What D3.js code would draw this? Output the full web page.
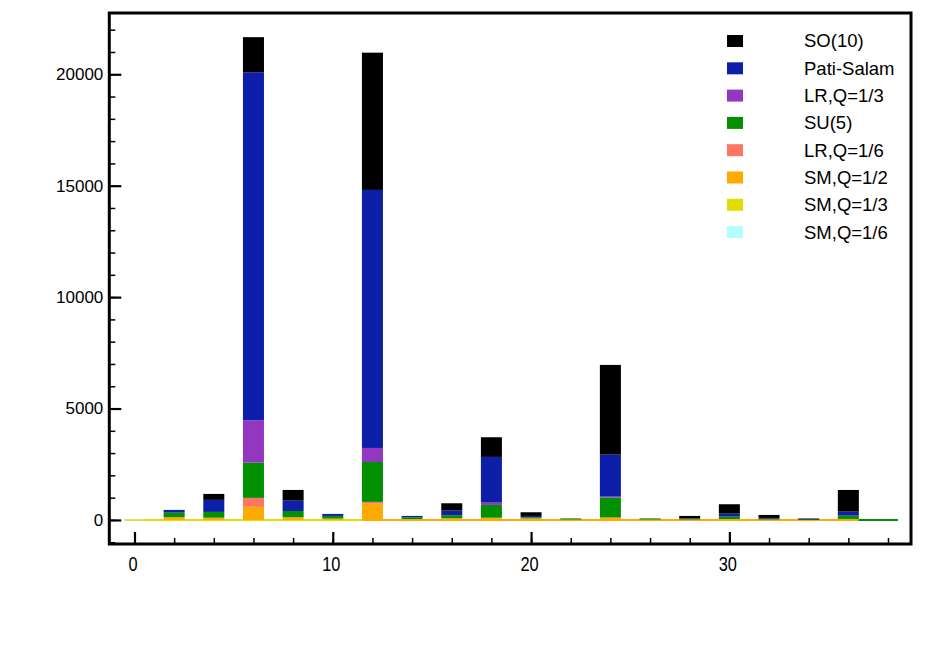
<!DOCTYPE html>
<html>
<head>
<meta charset="utf-8">
<script src="https://cdn.jsdelivr.net/npm/d3@7"></script>
<style>
  html, body { margin: 0; padding: 0; background: #fff; }
  svg { display: block; }
</style>
</head>
<body>
<svg id="chart" width="926" height="654"></svg>
<script>
// ---- data ----
const bins = [0, 2, 4, 6, 8, 10, 12, 14, 16, 18, 20, 22, 24, 26, 28, 30, 32, 34, 36];
// stacked bottom -> top
const seriesNames = ["SM,Q=1/6", "SM,Q=1/3", "SM,Q=1/2", "LR,Q=1/6", "SU(5)", "LR,Q=1/3", "Pati-Salam", "SO(10)"];
const seriesColors = ["#b3ffff", "#e0dd00", "#ffaa00", "#ff7560", "#009000", "#9437c0", "#0d1fa8", "#000000"];
const smQ16  = [15, 0, 0, 0, 0, 0, 0, 0, 0, 0, 0, 0, 0, 0, 0, 0, 0, 0, 0];
const smQ13  = [0, 0, 0, 0, 0, 0, 0, 0, 0, 0, 0, 0, 0, 0, 0, 0, 0, 0, 0];
const smQ12  = [0, 120, 100, 590, 120, 60, 730, 40, 75, 100, 70, 20, 110, 20, 20, 40, 20, 20, 40];
const lrQ16  = [0, 0, 0, 400, 0, 0, 80, 0, 0, 0, 0, 0, 0, 0, 0, 0, 0, 0, 0];
const su5    = [0, 210, 260, 1580, 280, 120, 1790, 80, 135, 573, 50, 50, 890, 50, 30, 110, 30, 20, 153];
const lrQ13  = [0, 0, 0, 1905, 0, 0, 630, 0, 0, 105, 0, 0, 47, 0, 0, 0, 0, 0, 0];
const patiSalam = [0, 120, 540, 15615, 466, 90, 11580, 60, 210, 2050, 60, 0, 1883, 0, 25, 133, 40, 10, 180];
const so10   = [0, 0, 267, 1575, 480, 0, 6160, 0, 328, 883, 164, 0, 4027, 0, 105, 421, 134, 10, 973];
const seriesValues = [smQ16, smQ13, smQ12, lrQ16, su5, lrQ13, patiSalam, so10];
// which series' outline shows on the empty histogram bins
const emptyLineSeries = [
  { from: -0.5, to: 11.5, series: "SM,Q=1/3" },
  { from: 11.5, to: 36.5, series: "SM,Q=1/2" },
  { from: 36.5, to: 38.5, series: "SU(5)" }
];
const xMajorTicks = [0, 10, 20, 30];
const yMajorTicks = [0, 5000, 10000, 15000, 20000];

// ---- layout ----
const svg = d3.select("#chart");
const L = 109.3, R = 911, T = 13, B = 544;
const x = d3.scaleLinear().domain([-1.27, 39.16]).range([L, R]);
const y = d3.scaleLinear().domain([-1080, 22750]).range([B, T]);
const color = d3.scaleOrdinal().domain(seriesNames).range(seriesColors);

// table for stacking
const table = bins.map((b, i) => {
  const row = { bin: b };
  seriesNames.forEach((s, k) => row[s] = seriesValues[k][i]);
  return row;
});
const stacked = d3.stack().keys(seriesNames)(table);

const g = svg.append("g");

// empty-bin outline lines along zero
g.selectAll("line.zero").data(emptyLineSeries).join("line")
  .attr("x1", d => x(d.from)).attr("x2", d => x(d.to))
  .attr("y1", y(0)).attr("y2", y(0))
  .attr("stroke", d => color(d.series)).attr("stroke-width", 2);

// bars
const bw = 1.06;
g.selectAll("g.layer").data(stacked).join("g")
  .attr("fill", d => color(d.key))
  .selectAll("rect").data(d => d.filter(p => p[1] - p[0] > 0)).join("rect")
  .attr("x", d => x(d.data.bin - bw / 2))
  .attr("width", x(bw) - x(0))
  .attr("y", d => y(d[1]))
  .attr("height", d => Math.max(0.6, y(d[0]) - y(d[1])));

// axes
const fontY = "17px 'Liberation Sans', Arial, sans-serif";
const yMinor = d3.range(-1000, 22001, 1000);
svg.append("g").attr("transform", `translate(${L},0)`)
  .call(d3.axisLeft(y).tickValues(yMinor).tickSize(-6).tickFormat(""))
  .call(a => a.select(".domain").remove())
  .call(a => a.selectAll("line").attr("stroke-width", 1.5));
svg.append("g").attr("transform", `translate(${L},0)`)
  .call(d3.axisLeft(y).tickValues(yMajorTicks).tickSize(-12).tickPadding(6).tickFormat(d3.format("d")))
  .call(a => a.select(".domain").remove())
  .call(a => a.selectAll("line").attr("stroke-width", 2.2))
  .call(a => a.selectAll("text").attr("fill", "#000").style("font", fontY));

const xMinor = d3.range(0, 39, 2);
svg.append("g").attr("transform", `translate(0,${B})`)
  .call(d3.axisBottom(x).tickValues(xMinor).tickSize(-6).tickFormat(""))
  .call(a => a.select(".domain").remove())
  .call(a => a.selectAll("line").attr("stroke-width", 1.5));
svg.append("g").attr("transform", `translate(0,${B})`)
  .call(d3.axisBottom(x).tickValues(xMajorTicks).tickSize(-12).tickPadding(13).tickFormat(d3.format("d")))
  .call(a => a.select(".domain").remove())
  .call(a => a.selectAll("line").attr("stroke-width", 2.2))
  .call(a => a.selectAll("text").attr("fill", "#000")
      .attr("transform", "translate(-2,0) scale(0.82,1)")
      .style("font", "20px 'Liberation Sans', Arial, sans-serif"));

// frame
svg.append("rect").attr("x", L).attr("y", T).attr("width", R - L).attr("height", B - T)
  .attr("fill", "none").attr("stroke", "#000").attr("stroke-width", 3);

// legend (top -> bottom = stack top -> bottom)
const legendItems = seriesNames.slice().reverse();
const lg = svg.append("g");
const rowH = 27.3, row0 = 41;
const items = lg.selectAll("g").data(legendItems).join("g")
  .attr("transform", (d, i) => `translate(0,${row0 + i * rowH})`);
items.append("rect").attr("x", 727).attr("y", -6).attr("width", 16).attr("height", 12)
  .attr("fill", d => color(d));
items.append("text").attr("x", 804).attr("y", 0).attr("dy", "0.35em")
  .style("font", "18.5px 'Liberation Sans', Arial, sans-serif").attr("fill", "#000")
  .text(d => d);
</script>
</body>
</html>
